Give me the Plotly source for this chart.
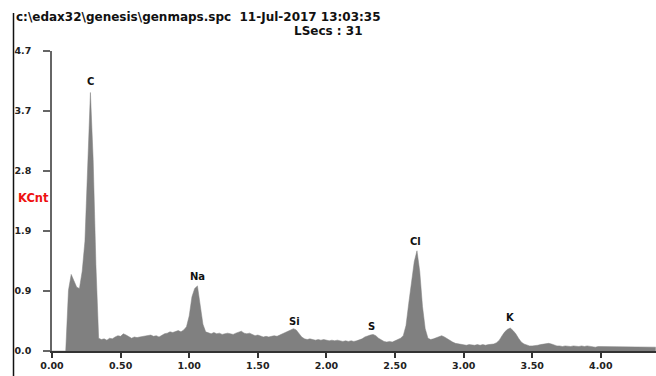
import plotly.graph_objects as go

# ---- data ----
CHANNEL_KEV = 0.02
counts_kcnt = [
    0.00, 0.00, 0.00, 0.00, 0.00, 0.00, 0.95, 1.20, 1.10, 1.00,
    0.98, 1.25, 1.72, 2.90, 4.05, 3.00, 1.35, 0.20, 0.18, 0.19,
    0.17, 0.20, 0.19, 0.22, 0.24, 0.23, 0.27, 0.25, 0.22, 0.20,
    0.22, 0.21, 0.22, 0.23, 0.24, 0.24, 0.25, 0.23, 0.24, 0.22,
    0.25, 0.27, 0.28, 0.30, 0.29, 0.31, 0.32, 0.30, 0.33, 0.38,
    0.55, 0.85, 0.98, 1.02, 0.70, 0.42, 0.30, 0.28, 0.27, 0.29,
    0.27, 0.28, 0.26, 0.27, 0.28, 0.27, 0.26, 0.28, 0.30, 0.31,
    0.28, 0.27, 0.28, 0.26, 0.24, 0.25, 0.23, 0.22, 0.23, 0.22,
    0.23, 0.24, 0.23, 0.25, 0.27, 0.30, 0.32, 0.34, 0.35, 0.33,
    0.28, 0.22, 0.19, 0.18, 0.19, 0.18, 0.17, 0.18, 0.17, 0.18,
    0.17, 0.16, 0.17, 0.16, 0.17, 0.16, 0.15, 0.16, 0.15, 0.16,
    0.15, 0.16, 0.17, 0.19, 0.22, 0.24, 0.25, 0.26, 0.24, 0.20,
    0.17, 0.15, 0.14, 0.15, 0.14, 0.16, 0.18, 0.20, 0.24, 0.40,
    0.75, 1.10, 1.40, 1.57, 1.25, 0.70, 0.35, 0.20, 0.18, 0.19,
    0.21, 0.23, 0.24, 0.22, 0.19, 0.16, 0.14, 0.12, 0.11, 0.10,
    0.09, 0.09, 0.10, 0.09, 0.09, 0.10, 0.09, 0.10, 0.09, 0.10,
    0.10, 0.11, 0.13, 0.17, 0.24, 0.30, 0.34, 0.36, 0.32, 0.27,
    0.20, 0.14, 0.11, 0.09, 0.08, 0.08, 0.08, 0.09, 0.10, 0.11,
    0.12, 0.12, 0.11, 0.09, 0.08, 0.08, 0.07, 0.08, 0.07, 0.07,
    0.08, 0.07, 0.07, 0.08, 0.07, 0.08, 0.07, 0.07, 0.06, 0.07,
    0.07, 0.07, 0.06, 0.07, 0.07, 0.06, 0.07, 0.06, 0.07, 0.07,
    0.06, 0.07, 0.06, 0.06, 0.07, 0.06, 0.07, 0.06, 0.06, 0.07,
    0.06,
]
energy_kev = [round(i * CHANNEL_KEV, 2) for i in range(len(counts_kcnt))]

peak_labels = ["C", "Na", "Si", "S", "Cl", "K"]
peak_energy = [0.28, 1.057, 1.764, 2.325, 2.65, 3.34]
peak_label_y = [4.22, 1.16, 0.47, 0.39, 1.71, 0.52]

x_tick_vals = [0.0, 0.5, 1.0, 1.5, 2.0, 2.5, 3.0, 3.5, 4.0]
y_tick_vals = [0.0, 0.94, 1.88, 2.82, 3.76, 4.7]
y_tick_text = ["0.0", "0.9", "1.9", "2.8", "3.7", "4.7"]

header_line1 = "c:\\edax32\\genesis\\genmaps.spc  11-Jul-2017 13:03:35"
header_line2 = "LSecs : 31"
y_unit = "KCnt"

FONT = "DejaVu Sans"

fig = go.Figure()
fig.add_trace(go.Scatter(
    x=energy_kev, y=counts_kcnt, mode="lines",
    fill="tozeroy", fillcolor="#808080",
    line=dict(color="#808080", width=0.5),
    hoverinfo="skip", showlegend=False,
))

for lab, ex, ey in zip(peak_labels, peak_energy, peak_label_y):
    fig.add_annotation(x=ex, y=ey, text=lab, showarrow=False,
                       xanchor="center", yanchor="middle",
                       font=dict(family=FONT, size=10, color="#111", weight="bold"))

# plot area: x 52..656, y 51..351 (pixels)
L, R, T, B = 52, 0, 51, 25
W, H = 656, 376
pw, ph = W - L - R, H - T - B

def px(xpix):
    return (xpix - L) / pw

def py(ypix):
    return (H - B - ypix) / ph

fig.add_annotation(xref="paper", yref="paper", x=px(14), y=py(17), text=header_line1,
                   showarrow=False, xanchor="left", yanchor="middle",
                   font=dict(family=FONT, size=12, color="#111", weight="bold"))
fig.add_annotation(xref="paper", yref="paper", x=px(328), y=py(31), text=header_line2,
                   showarrow=False, xanchor="center", yanchor="middle",
                   font=dict(family=FONT, size=12, color="#111", weight="bold"))
fig.add_annotation(xref="paper", yref="paper", x=px(16), y=py(198), text=y_unit,
                   showarrow=False, xanchor="left", yanchor="middle",
                   font=dict(family=FONT, size=11.5, color="#ee1111", weight="bold"))

fig.add_shape(type="line", xref="paper", yref="paper",
              x0=px(13.5), x1=px(13.5), y0=py(13), y1=py(376),
              line=dict(color="#111", width=1.5))

fig.update_layout(
    width=W, height=H,
    margin=dict(l=L, r=R, t=T, b=B, pad=0),
    paper_bgcolor="white", plot_bgcolor="white",
    xaxis=dict(range=[0, 4.402], tickvals=x_tick_vals, tickformat=".2f",
               showgrid=False, zeroline=False, showline=True,
               linecolor="#333", linewidth=2, ticks="outside", ticklen=5,
               tickcolor="#333", tickwidth=1.5,
               tickfont=dict(family=FONT, size=9.5, color="#222", weight="bold")),
    yaxis=dict(range=[0, 4.7], tickvals=y_tick_vals, ticktext=y_tick_text,
               showgrid=False, zeroline=False, showline=True,
               linecolor="#666", linewidth=1.5, ticks="outside", ticklen=7,
               tickcolor="#666", tickwidth=1.5, ticklabelstandoff=10,
               tickfont=dict(family=FONT, size=9.5, color="#222", weight="bold")),
)

fig.write_html("out.html", config={"displayModeBar": False},
               post_script="document.body.style.margin='0';document.body.style.overflow='hidden';")
